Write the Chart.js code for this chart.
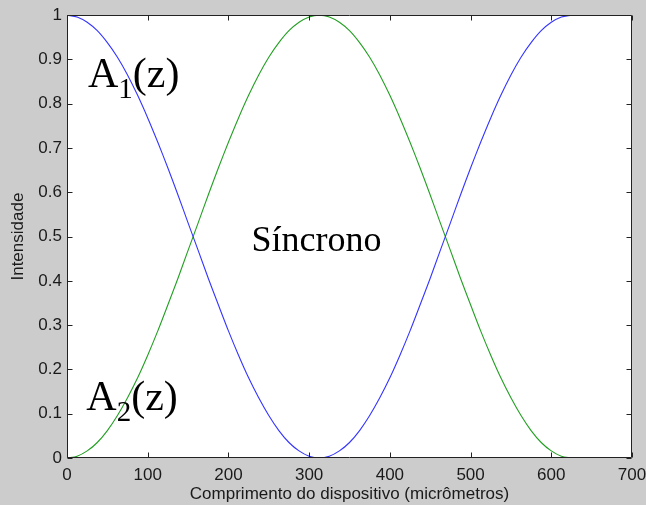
<!DOCTYPE html>
<html>
<head>
<meta charset="utf-8">
<script src="https://cdn.jsdelivr.net/npm/chart.js@4.4.1/dist/chart.umd.min.js"></script>
<style>
  html, body { margin: 0; padding: 0; background: #cccccc; }
  #wrap { width: 646px; height: 505px; }
</style>
</head>
<body>
<div id="wrap"><canvas id="c" width="646" height="505"></canvas></div>
<script>
// Device length positions (micrometres), one sample every 12.5
const zPositions = [0, 12.5, 25, 37.5, 50, 62.5, 75, 87.5, 100, 112.5, 125, 137.5, 150, 162.5,
                    175, 187.5, 200, 212.5, 225, 237.5, 250, 262.5, 275, 287.5, 300, 312.5,
                    325, 337.5, 350, 362.5, 375, 387.5, 400, 412.5, 425, 437.5, 450, 462.5,
                    475, 487.5, 500, 512.5, 525, 537.5, 550, 562.5, 575, 587.5, 600, 612.5, 625];
// Intensity in guide 1, A1(z)
const a1Values = [1.000, 0.996, 0.984, 0.965, 0.938, 0.905, 0.865, 0.819, 0.768, 0.713, 0.655,
                  0.594, 0.531, 0.469, 0.406, 0.346, 0.287, 0.232, 0.181, 0.136, 0.096, 0.062,
                  0.035, 0.016, 0.004, 0.000, 0.004, 0.016, 0.035, 0.062, 0.096, 0.136, 0.181,
                  0.232, 0.287, 0.346, 0.406, 0.469, 0.531, 0.594, 0.655, 0.713, 0.768, 0.819,
                  0.865, 0.905, 0.938, 0.965, 0.984, 0.996, 1.000];
// Intensity in guide 2, A2(z)
const a2Values = [0.000, 0.004, 0.016, 0.035, 0.062, 0.096, 0.136, 0.181, 0.232, 0.287, 0.346,
                  0.406, 0.469, 0.531, 0.594, 0.655, 0.713, 0.768, 0.819, 0.865, 0.905, 0.938,
                  0.965, 0.984, 0.996, 1.000, 0.996, 0.984, 0.965, 0.938, 0.905, 0.865, 0.819,
                  0.768, 0.713, 0.655, 0.594, 0.531, 0.469, 0.406, 0.346, 0.287, 0.232, 0.181,
                  0.136, 0.096, 0.062, 0.035, 0.016, 0.004, 0.000];
// Axis ticks
const xTicks = [0, 100, 200, 300, 400, 500, 600, 700];
const yTicks = [0, 0.1, 0.2, 0.3, 0.4, 0.5, 0.6, 0.7, 0.8, 0.9, 1];

const toPoints = vals => zPositions.map((z, i) => ({ x: z, y: vals[i] }));

// White axes box, frame with inward ticks, and text annotations
const framePlugin = {
  id: 'frame',
  beforeDatasetsDraw(chart) {
    const { ctx, chartArea: a } = chart;
    ctx.save();
    ctx.fillStyle = '#ffffff';
    ctx.fillRect(a.left, a.top, a.right - a.left, a.bottom - a.top);
    ctx.restore();
  },
  afterDatasetsDraw(chart) {
    const { ctx, chartArea: a, scales } = chart;
    const L = Math.round(a.left) + 0.5, R = Math.round(a.right) - 0.5;
    const T = Math.round(a.top) + 0.5, B = Math.round(a.bottom) - 0.5;
    const tl = 5;
    ctx.save();
    ctx.strokeStyle = '#222222';
    ctx.lineWidth = 1;
    ctx.beginPath();
    ctx.rect(L, T, R - L, B - T);
    xTicks.forEach(v => {
      const px = Math.round(scales.x.getPixelForValue(v)) + 0.5;
      ctx.moveTo(px, B); ctx.lineTo(px, B - tl);
      ctx.moveTo(px, T); ctx.lineTo(px, T + tl);
    });
    yTicks.forEach(v => {
      const py = Math.round(scales.y.getPixelForValue(v)) + 0.5;
      ctx.moveTo(L, py); ctx.lineTo(L + tl, py);
      ctx.moveTo(R, py); ctx.lineTo(R - tl, py);
    });
    ctx.stroke();

    // Annotations
    ctx.fillStyle = '#000000';
    ctx.textBaseline = 'alphabetic';
    const serif = '"Liberation Serif", "Times New Roman", serif';
    const drawSub = (x, y, main, sub, tail, size) => {
      ctx.font = size + 'px ' + serif;
      ctx.textAlign = 'left';
      ctx.fillText(main, x, y);
      let cx = x + ctx.measureText(main).width;
      const subSize = Math.round(size * 0.68);
      ctx.font = subSize + 'px ' + serif;
      ctx.fillText(sub, cx, y + size * 0.26);
      cx += ctx.measureText(sub).width;
      ctx.font = size + 'px ' + serif;
      ctx.fillText(tail, cx, y);
    };
    drawSub(scales.x.getPixelForValue(26), scales.y.getPixelForValue(0.838), 'A', '1', '(z)', 42);
    drawSub(scales.x.getPixelForValue(24), scales.y.getPixelForValue(0.108), 'A', '2', '(z)', 42);
    ctx.font = '36px ' + serif;
    ctx.textAlign = 'center';
    ctx.fillText('Síncrono', scales.x.getPixelForValue(309), scales.y.getPixelForValue(0.468));
    ctx.restore();
  }
};

const tickFont = { family: '"Liberation Sans", Arial, sans-serif', size: 17 };
const titleFont = { family: '"Liberation Sans", Arial, sans-serif', size: 17 };

new Chart(document.getElementById('c'), {
  type: 'line',
  data: {
    datasets: [
      { label: 'A1(z)', data: toPoints(a1Values), borderColor: '#3535ff', borderWidth: 1.1,
        pointRadius: 0, tension: 0.3, fill: false },
      { label: 'A2(z)', data: toPoints(a2Values), borderColor: '#22a022', borderWidth: 1.1,
        pointRadius: 0, tension: 0.3, fill: false }
    ]
  },
  options: {
    responsive: false,
    animation: false,
    layout: { padding: { top: 14, right: 0, left: 0, bottom: 0 } },
    plugins: { legend: { display: false }, tooltip: { enabled: false } },
    scales: {
      x: {
        type: 'linear', min: 0, max: 700,
        afterBuildTicks: s => { s.ticks = xTicks.map(v => ({ value: v })); },
        afterFit: s => { s.height = 47; s.paddingRight = 14; },
        grid: { display: false, drawTicks: false }, border: { display: false },
        ticks: { font: tickFont, color: '#1a1a1a', padding: 7, maxRotation: 0 },
        title: { display: true, text: 'Comprimento do dispositivo (micrômetros)',
                 font: titleFont, color: '#1a1a1a', padding: { top: 0, bottom: 0 } }
      },
      y: {
        min: 0, max: 1,
        afterBuildTicks: s => { s.ticks = yTicks.map(v => ({ value: v })); },
        afterFit: s => { s.width = 67; },
        grid: { display: false, drawTicks: false }, border: { display: false },
        ticks: { font: tickFont, color: '#1a1a1a', padding: 5,
                 callback: v => String(Math.round(v * 10) / 10) },
        title: { display: true, text: 'Intensidade', font: titleFont, color: '#1a1a1a',
                 padding: { top: 8, bottom: 0 } }
      }
    }
  },
  plugins: [framePlugin]
});
</script>
</body>
</html>
